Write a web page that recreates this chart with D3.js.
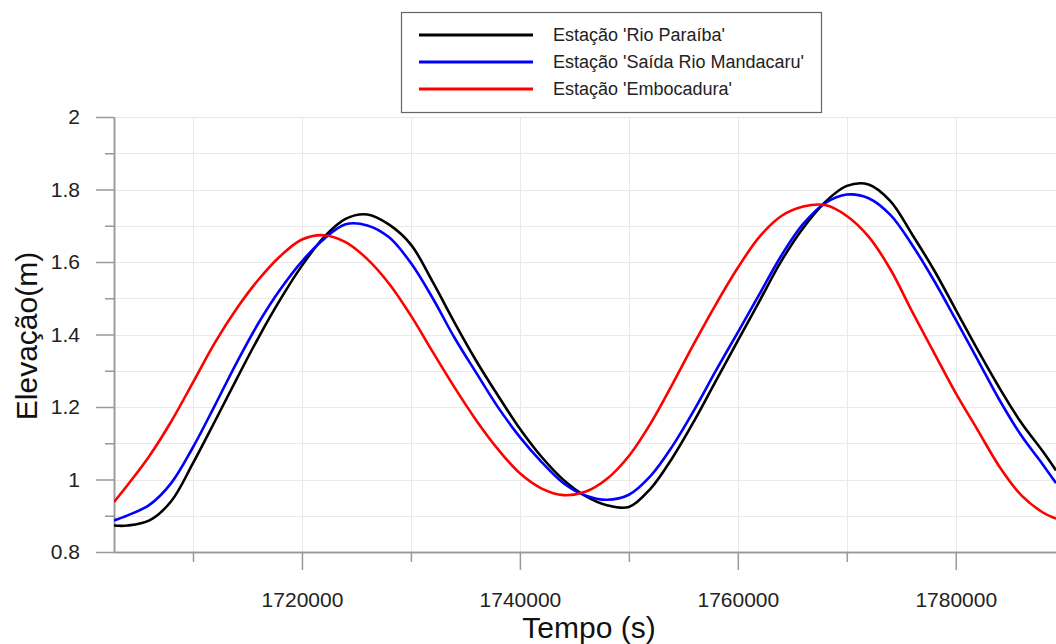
<!DOCTYPE html>
<html>
<head>
<meta charset="utf-8">
<script src="https://cdn.jsdelivr.net/npm/d3@7"></script>
<style>
  html, body { margin: 0; padding: 0; background: #fff; }
  svg { display: block; font-family: "Liberation Sans", Arial, sans-serif; }
</style>
</head>
<body>
<svg id="chart" width="1056" height="644"></svg>
<script>
// Time axis samples (s)
const tempo = [
  1702750, 1704000, 1706000, 1708000, 1710000, 1712000, 1714000, 1716000, 1718000,
  1720000, 1722000, 1724000, 1726000, 1728000, 1730000, 1732000, 1734000, 1736000,
  1738000, 1740000, 1742000, 1744000, 1746000, 1748000, 1750000, 1752000, 1754000,
  1756000, 1758000, 1760000, 1762000, 1764000, 1766000, 1768000, 1770000, 1772000,
  1774000, 1776000, 1778000, 1780000, 1782000, 1784000, 1786000, 1788000, 1789200
];

// Water elevation (m) at each station
const rioParaiba = [
  0.873, 0.873, 0.887, 0.940, 1.045, 1.160, 1.277, 1.391, 1.496,
  1.590, 1.668, 1.719, 1.731, 1.703, 1.648, 1.545, 1.433, 1.327,
  1.231, 1.140, 1.062, 0.999, 0.955, 0.929, 0.924, 0.975, 1.060,
  1.162, 1.273, 1.383, 1.493, 1.603, 1.694, 1.765, 1.810, 1.814,
  1.768, 1.676, 1.578, 1.468, 1.358, 1.253, 1.157, 1.077, 1.025
];
const saidaMandacaru = [
  0.887, 0.901, 0.930, 0.990, 1.089, 1.204, 1.322, 1.431, 1.524,
  1.602, 1.663, 1.704, 1.701, 1.668, 1.597, 1.500, 1.391, 1.294,
  1.199, 1.117, 1.048, 0.990, 0.956, 0.944, 0.958, 1.010, 1.092,
  1.192, 1.301, 1.406, 1.512, 1.618, 1.705, 1.762, 1.786, 1.776,
  1.730, 1.647, 1.549, 1.441, 1.331, 1.220, 1.122, 1.041, 0.990
];
const embocadura = [
  0.938, 0.985, 1.065, 1.160, 1.268, 1.377, 1.471, 1.551, 1.616,
  1.662, 1.674, 1.655, 1.608, 1.540, 1.452, 1.352, 1.254, 1.163,
  1.083, 1.017, 0.975, 0.957, 0.966, 1.002, 1.065, 1.155, 1.263,
  1.376, 1.484, 1.584, 1.670, 1.727, 1.753, 1.757, 1.727, 1.670,
  1.580, 1.463, 1.350, 1.238, 1.137, 1.036, 0.957, 0.909, 0.892
];

const seriesNames = ["Estação 'Rio Paraíba'", "Estação 'Saída Rio Mandacaru'", "Estação 'Embocadura'"];
const seriesColors = ["#000000", "#0000ff", "#ff0000"];
const seriesValues = [rioParaiba, saidaMandacaru, embocadura];

const xMajorTicks = [1720000, 1740000, 1760000, 1780000];
const xMinorTicks = [1710000, 1730000, 1750000, 1770000];
const yMajorTicks = [0.8, 1, 1.2, 1.4, 1.6, 1.8, 2];
const yMinorTicks = [0.9, 1.1, 1.3, 1.5, 1.7, 1.9];
const yGridTicks = [0.9, 1, 1.1, 1.2, 1.3, 1.4, 1.5, 1.6, 1.7, 1.8, 1.9, 2];

const svg = d3.select("#chart");
const plotLeft = 114, plotRight = 1056, plotTop = 117, plotBottom = 552;

const x = d3.scaleLinear().domain([1702750, 1789200]).range([plotLeft, plotRight]);
const y = d3.scaleLinear().domain([0.8, 2]).range([plotBottom, plotTop]);

svg.append("rect").attr("width", 1056).attr("height", 644).attr("fill", "#fff");

// Grid
const grid = svg.append("g").attr("stroke", "#e9e9e9").attr("stroke-width", 1);
grid.selectAll(".gx").data(xMajorTicks.concat(xMinorTicks)).join("line")
  .attr("x1", d => Math.round(x(d)) + 0.5).attr("x2", d => Math.round(x(d)) + 0.5)
  .attr("y1", plotTop).attr("y2", plotBottom);
grid.selectAll(".gy").data(yGridTicks).join("line")
  .attr("x1", plotLeft).attr("x2", plotRight)
  .attr("y1", d => Math.round(y(d)) + 0.5).attr("y2", d => Math.round(y(d)) + 0.5);

// Axes
function styleAxis(g) {
  g.select(".domain").attr("stroke", "#999").attr("stroke-width", 1.5);
  g.selectAll(".tick line").attr("stroke", "#999").attr("stroke-width", 1.5);
  g.selectAll(".tick text").attr("fill", "#222").style("font-size", "21px")
    .style("font-family", "'Liberation Sans', Arial, sans-serif");
}

svg.append("g").attr("transform", `translate(0,${plotBottom})`)
  .call(d3.axisBottom(x).tickValues(xMinorTicks).tickSize(10).tickSizeOuter(0).tickFormat(""))
  .call(styleAxis);
svg.append("g").attr("transform", `translate(0,${plotBottom})`)
  .call(d3.axisBottom(x).tickValues(xMajorTicks).tickSize(18).tickSizeOuter(0).tickPadding(22).tickFormat(d3.format("d")))
  .call(styleAxis);

svg.append("g").attr("transform", `translate(${plotLeft},0)`)
  .call(d3.axisLeft(y).tickValues(yMinorTicks).tickSize(9).tickSizeOuter(0).tickFormat(""))
  .call(styleAxis);
svg.append("g").attr("transform", `translate(${plotLeft},0)`)
  .call(d3.axisLeft(y).tickValues(yMajorTicks).tickSize(18).tickSizeOuter(0).tickPadding(16).tickFormat(d => String(d)))
  .call(styleAxis);

// Series lines
svg.append("clipPath").attr("id", "plot-clip")
  .append("rect").attr("x", plotLeft).attr("y", plotTop - 5)
  .attr("width", plotRight - plotLeft).attr("height", plotBottom - plotTop + 5);

const line = d3.line()
  .x((d, i) => x(tempo[i]))
  .y(d => y(d))
  .curve(d3.curveCatmullRom.alpha(0.5));

const lines = svg.append("g").attr("clip-path", "url(#plot-clip)");
seriesValues.forEach((vals, k) => {
  lines.append("path").datum(vals)
    .attr("fill", "none")
    .attr("stroke", seriesColors[k])
    .attr("stroke-width", 2.6)
    .attr("stroke-linejoin", "round")
    .attr("d", line);
});

// Axis titles
svg.append("text").attr("x", 589).attr("y", 638).attr("text-anchor", "middle")
  .attr("fill", "#111").style("font-size", "30px").text("Tempo (s)");
svg.append("text").attr("transform", "translate(37,336) rotate(-90)").attr("text-anchor", "middle")
  .attr("fill", "#111").style("font-size", "30px").text("Elevação(m)");

// Legend
const legend = svg.append("g");
legend.append("rect").attr("x", 401.5).attr("y", 12.5).attr("width", 420).attr("height", 100)
  .attr("fill", "#fff").attr("stroke", "#666").attr("stroke-width", 1.2);
seriesNames.forEach((name, k) => {
  const ly = 35 + k * 27;
  legend.append("line").attr("x1", 419).attr("x2", 533).attr("y1", ly).attr("y2", ly)
    .attr("stroke", seriesColors[k]).attr("stroke-width", 3);
  legend.append("text").attr("x", 553).attr("y", ly).attr("dy", "0.36em")
    .attr("fill", "#222").style("font-size", "18px").text(name);
});
</script>
</body>
</html>
